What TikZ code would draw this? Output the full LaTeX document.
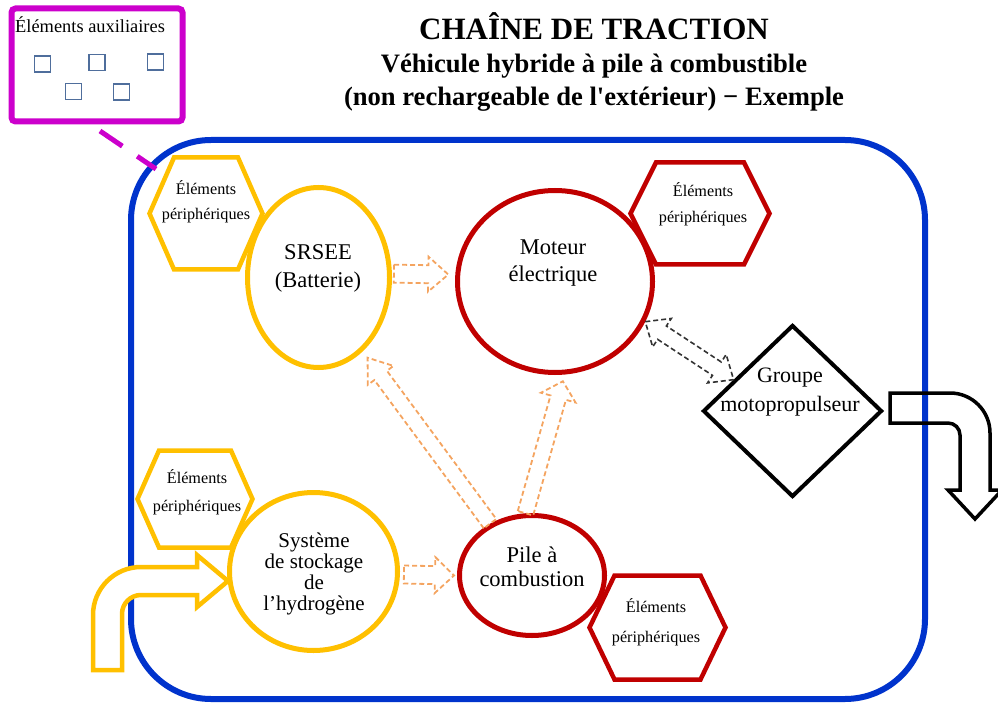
\documentclass[tikz,border=0pt]{standalone}
\usepackage{fontspec}
\setmainfont{Liberation Serif}
\newfontfamily\plainserif{Liberation Serif}
\usetikzlibrary{shapes.geometric,calc}
\definecolor{cgold}{HTML}{FFC000}
\definecolor{cred}{HTML}{C00000}
\definecolor{cblue}{HTML}{0033CC}
\definecolor{cmag}{HTML}{CC00CC}
\definecolor{csq}{HTML}{4F6E9C}
\definecolor{cflow}{HTML}{F4A460}
\tikzset{
  hexline/.style={line width=4.5pt, fill=white, line join=miter},
  blockel/.style={ellipse, line width=5pt, fill=white, inner sep=0pt},
  hextext/.style={align=center, font=\fontsize{16.2}{26}\selectfont},
  maintext/.style={align=center, font=\fontsize{22.5}{28}\selectfont},
  flowarrow/.style={draw=cflow, line width=1.8pt, dash pattern=on 5pt off 3pt, line join=miter},
  mecharrow/.style={draw=black!80, line width=1.6pt, dash pattern=on 5pt off 3pt, line join=miter},
  sqbox/.style={draw=csq, line width=1.8pt, minimum size=16pt, inner sep=0pt},
}
\newcommand{\hollowarrow}[6]{%
  \coordinate (ha-s) at (#2);
  \coordinate (ha-e) at (#3);
  \coordinate (ha-b) at ($(ha-e)!#6!(ha-s)$);
  \draw[#1] ($(ha-s)!#4!90:(ha-e)$) -- ($(ha-b)!#4!-90:(ha-s)$) -- ($(ha-b)!#5!-90:(ha-s)$) -- (ha-e) -- ($(ha-b)!#5!90:(ha-s)$) -- ($(ha-b)!#4!90:(ha-s)$) -- ($(ha-s)!#4!-90:(ha-e)$) -- cycle;}
\newcommand{\hollowdarrow}[6]{%
  \coordinate (hd-s) at (#2);
  \coordinate (hd-e) at (#3);
  \coordinate (hd-b) at ($(hd-s)!#6!(hd-e)$);
  \coordinate (hd-c) at ($(hd-e)!#6!(hd-s)$);
  \draw[#1] (hd-s) -- ($(hd-b)!#5!90:(hd-e)$) -- ($(hd-b)!#4!90:(hd-e)$) -- ($(hd-c)!#4!-90:(hd-s)$) -- ($(hd-c)!#5!-90:(hd-s)$) -- (hd-e) -- ($(hd-c)!#5!90:(hd-s)$) -- ($(hd-c)!#4!90:(hd-s)$) -- ($(hd-b)!#4!-90:(hd-e)$) -- ($(hd-b)!#5!-90:(hd-e)$) -- cycle;}
\newcommand{\hexagonat}[6]{%
  \coordinate (#1) at (#2);
  \draw[hexline, draw=#6] ([shift={(-#5,-#4)}]#1) -- ([shift={(#5,-#4)}]#1) -- ([shift={(#3,0)}]#1) -- ([shift={(#5,#4)}]#1) -- ([shift={(-#5,#4)}]#1) -- ([shift={(-#3,0)}]#1) -- cycle;}
\begin{document}
\begin{tikzpicture}[x=1pt,y=-1pt]
\useasboundingbox (0,0) rectangle (998,703);
% outer frame
\draw[cblue, line width=6pt, rounded corners=80pt] (131,140) rectangle (925,699);
% auxiliary box
\node[draw=cmag, line width=6pt, rounded corners=4pt, minimum width=171pt, minimum height=113pt, inner sep=0pt] (aux) at (97,65) {};
\node[anchor=base west, font=\fontsize{18.4}{20}\selectfont, inner sep=0pt] (auxt) at (15,33) {Éléments auxiliaires};
\node[sqbox] (sq1) at (42.5,64) {};
\node[sqbox] (sq2) at (97,62.5) {};
\node[sqbox] (sq3) at (155.5,62) {};
\node[sqbox] (sq4) at (73.5,91.5) {};
\node[sqbox] (sq5) at (121.5,92) {};
\coordinate (auxa) at (100,131);
\coordinate (auxb) at (156,169);
\draw[cmag, line width=5pt, dash pattern=on 27pt off 18pt] (auxa) -- (auxb);
% title
\node[anchor=base, font=\bfseries\fontsize{31}{31}\selectfont, inner sep=0pt] (title) at (594,40) {CHAÎNE DE TRACTION};
\node[anchor=base, font=\bfseries\fontsize{26.6}{27}\selectfont, inner sep=0pt] (sub1) at (594,73) {Véhicule hybride à pile à combustible};
\node[anchor=base, font=\plainserif\bfseries\fontsize{26.6}{27}\selectfont, inner sep=0pt] (sub2) at (594,106) {(non rechargeable de l'extérieur) − Exemple};
% main blocks
\node[blockel, draw=cgold, minimum width=142pt, minimum height=180pt] (srsee) at (318.5,277.5) {};
\node[blockel, draw=cred, minimum width=195pt, minimum height=182pt] (moteur) at (555,281.5) {};
\node[blockel, draw=cgold, minimum width=168pt, minimum height=158pt] (systeme) at (313.5,571.5) {};
\node[blockel, draw=cred, minimum width=145pt, minimum height=120pt] (pile) at (532,575.5) {};
\node[diamond, draw=black, line width=4pt, fill=white, inner sep=0pt, minimum width=179pt, minimum height=172pt] (gmp) at (792.5,411) {};
% flows
\hollowarrow{flowarrow}{[xshift=2pt]srsee.3}{[xshift=-7pt]moteur.176}{9pt}{17.5pt}{20pt}
\hollowarrow{flowarrow}{pile.129}{$(srsee.-59)!8pt!(pile.129)$}{7.8pt}{16pt}{22pt}
\hollowarrow{flowarrow}{pile.96}{$(moteur.-84)!7pt!(pile.96)$}{8pt}{18pt}{17pt}
\hollowarrow{flowarrow}{[xshift=4pt]systeme.-2}{[xshift=-3pt]pile.west}{9pt}{18pt}{19pt}
\hollowdarrow{mecharrow}{moteur.-24}{gmp.152}{8pt}{17pt}{20pt}
% input hydrogen arrow
\draw[cgold, line width=4.5pt, fill=white, line join=miter] (93,670) -- (93,615) arc[start angle=180, end angle=270, radius=48] -- (197,567) -- (197,555) -- (228,581) -- (197,607) -- (197,595) -- (141,595) arc[start angle=270, end angle=180, radius=19] -- (122,670) -- cycle;
% output arrow
\draw[black, line width=3.5pt, line join=miter] (890,393) -- (950,393) arc[start angle=-90, end angle=0, radius=40] -- (990,490) -- (1002,490) -- (975,519) -- (948,490) -- (960,490) -- (960,435) arc[start angle=0, end angle=-90, radius=12] -- (890,423) -- cycle;
% peripheral hexagons
\hexagonat{hx1}{206,213.5}{56.5}{56}{32}{cgold}
\hexagonat{hx2}{700,213.5}{69.5}{51}{44}{cred}
\hexagonat{hx3}{195,499}{57.5}{48.5}{36}{cgold}
\hexagonat{hx4}{657.5,627.5}{68}{52}{43}{cred}
\node[hextext, font=\fontsize{16.2}{25}\selectfont] (hx1t) at (206,202) {Éléments\\périphériques};
\node[hextext, font=\fontsize{16.2}{26}\selectfont] (hx2t) at (703,204.5) {Éléments\\périphériques};
\node[hextext, font=\fontsize{16.2}{28}\selectfont] (hx3t) at (197,492.5) {Éléments\\périphériques};
\node[hextext, font=\fontsize{16.2}{30}\selectfont] (hx4t) at (656,622.5) {Éléments\\périphériques};
% labels
\node[maintext] (srseet) at (318,268) {SRSEE\\(Batterie)};
\node[maintext, font=\fontsize{22.5}{27}\selectfont] (moteurt) at (553,263) {Moteur\\électrique};
\node[maintext, font=\fontsize{21}{21}\selectfont] (systemet) at (314,574) {Système\\de stockage\\de\\l’hydrogène};
\node[maintext, font=\fontsize{22.5}{24}\selectfont] (pilet) at (532,567) {Pile à\\combustion};
\node[maintext, font=\fontsize{22}{29}\selectfont] (gmpt) at (790,392) {Groupe\\motopropulseur};
\end{tikzpicture}
\end{document}
